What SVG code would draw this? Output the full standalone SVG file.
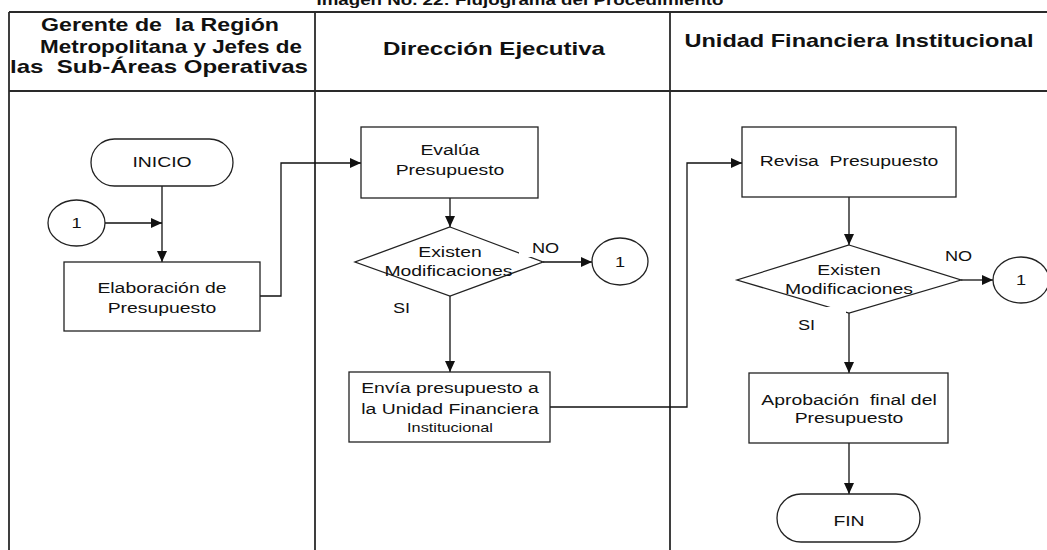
<svg xmlns="http://www.w3.org/2000/svg" width="1047" height="550" viewBox="0 0 1047 550">
  <defs>
    <style>
      .lane{fill:none;stroke:#2a2a2a;stroke-width:1.8}
      .shape{fill:#fff;stroke:#222;stroke-width:1.3}
      .edge{fill:none;stroke:#111;stroke-width:1.3}
      .mask{fill:#fff;stroke:none}
      text{font-family:"Liberation Sans",Arial,sans-serif;fill:#111}
      .hd{font-weight:bold;font-size:18.8px;text-anchor:middle}
      .tt{font-weight:bold;font-size:15px;text-anchor:middle}
      .lb{font-size:15.5px;text-anchor:middle}
      .sm{font-size:13px;text-anchor:middle}
      .cn{font-size:14.5px;text-anchor:middle}
      .yn{font-size:14.5px}
    </style>
    <marker id="arr" markerUnits="userSpaceOnUse" markerWidth="12" markerHeight="10" refX="11" refY="5" orient="auto">
      <path d="M0,0 L11,5 L0,10 z" fill="#111"/>
    </marker>
  </defs>

  <rect width="1047" height="550" fill="#fff"/>

  <!-- caption (text is widened 1.25x horizontally, so x values are divided by 1.25) -->
  <g id="caption" transform="scale(1.25 1)">
    <text class="tt" x="416" y="5">Imagen No. 22: Flujograma del Procedimiento</text>
  </g>

  <!-- swimlane grid -->
  <g id="lanes">
    <line class="lane" x1="9" y1="12" x2="1047" y2="12"/>
    <line class="lane" x1="9" y1="91" x2="1047" y2="91"/>
    <line class="lane" x1="9" y1="12" x2="9" y2="550"/>
    <line class="lane" x1="315" y1="12" x2="315" y2="550"/>
    <line class="lane" x1="670" y1="12" x2="670" y2="550"/>
  </g>

  <g id="lane-headers" transform="scale(1.25 1)">
    <text class="hd" x="128" y="31" textLength="190.4" lengthAdjust="spacingAndGlyphs" xml:space="preserve">Gerente de  la Región</text>
    <text class="hd" x="136.8" y="53" textLength="209.6" lengthAdjust="spacingAndGlyphs">Metropolitana y Jefes de</text>
    <text class="hd" x="127.2" y="73" textLength="238.4" lengthAdjust="spacingAndGlyphs" xml:space="preserve">las  Sub-Áreas Operativas</text>
    <text class="hd" x="395.2" y="55" textLength="177.6" lengthAdjust="spacingAndGlyphs">Dirección Ejecutiva</text>
    <text class="hd" x="687.2" y="47" textLength="279.2" lengthAdjust="spacingAndGlyphs">Unidad Financiera Institucional</text>
  </g>

  <!-- connectors -->
  <g id="connectors">
    <path class="edge" d="M162,186 V262" marker-end="url(#arr)"/>
    <path class="edge" d="M105,223 H162" marker-end="url(#arr)"/>
    <path class="edge" d="M260,296 H281 V163 H361" marker-end="url(#arr)"/>
    <path class="edge" d="M450,198 V227" marker-end="url(#arr)"/>
    <path class="edge" d="M543,262 H592" marker-end="url(#arr)"/>
    <path class="edge" d="M450,296 V372" marker-end="url(#arr)"/>
    <path class="edge" d="M550,407 H687 V163 H742" marker-end="url(#arr)"/>
    <path class="edge" d="M849,197 V245" marker-end="url(#arr)"/>
    <path class="edge" d="M961,280 H993" marker-end="url(#arr)"/>
    <path class="edge" d="M849,313 V373" marker-end="url(#arr)"/>
    <path class="edge" d="M849,443 V494" marker-end="url(#arr)"/>
  </g>

  <!-- lane 1 -->
  <g id="inicio">
    <rect class="shape" x="91" y="139" width="142" height="47" rx="23.5"/>
    <g transform="scale(1.25 1)"><text class="lb" x="129.6" y="167">INICIO</text></g>
  </g>
  <g id="conector-entrada">
    <ellipse class="shape" cx="76.5" cy="223" rx="28.5" ry="23"/>
    <g transform="scale(1.25 1)"><text class="cn" x="61.2" y="228">1</text></g>
  </g>
  <g id="elaboracion">
    <rect class="shape" x="64" y="262" width="196" height="69"/>
    <g transform="scale(1.25 1)">
      <text class="lb" x="129.6" y="293">Elaboración de</text>
      <text class="lb" x="129.6" y="313">Presupuesto</text>
    </g>
  </g>

  <!-- lane 2 -->
  <g id="evalua">
    <rect class="shape" x="361" y="127" width="177" height="71"/>
    <g transform="scale(1.25 1)">
      <text class="lb" x="360" y="155">Evalúa</text>
      <text class="lb" x="360" y="175">Presupuesto</text>
    </g>
  </g>
  <g id="decision-1">
    <polygon class="shape" points="450,227 543,262 450,296 355,262"/>
    <rect class="mask" x="519" y="239" width="44" height="18"/>
    <g transform="scale(1.25 1)">
      <text class="lb" x="360" y="257">Existen</text>
      <text class="lb" x="358.8" y="276">Modificaciones</text>
      <text class="yn" x="425.6" y="253">NO</text>
      <text class="yn" x="314.4" y="313">SI</text>
    </g>
  </g>
  <g id="conector-1">
    <ellipse class="shape" cx="620" cy="261.5" rx="28" ry="23.5"/>
    <g transform="scale(1.25 1)"><text class="cn" x="496" y="267">1</text></g>
  </g>
  <g id="envia">
    <rect class="shape" x="349" y="372" width="201" height="70"/>
    <g transform="scale(1.25 1)">
      <text class="lb" x="360" y="393">Envía presupuesto a</text>
      <text class="lb" x="360" y="414">la Unidad Financiera</text>
      <text class="sm" x="360" y="432">Institucional</text>
    </g>
  </g>

  <!-- lane 3 -->
  <g id="revisa">
    <rect class="shape" x="742" y="127" width="214" height="70"/>
    <g transform="scale(1.25 1)"><text class="lb" x="679.2" y="166" xml:space="preserve">Revisa  Presupuesto</text></g>
  </g>
  <g id="decision-2">
    <polygon class="shape" points="849,245 961,280 849,313 737,280"/>
    <rect class="mask" x="790" y="307" width="56" height="28"/>
    <g transform="scale(1.25 1)">
      <text class="lb" x="679.2" y="275">Existen</text>
      <text class="lb" x="679.2" y="294">Modificaciones</text>
      <text class="yn" x="756" y="261">NO</text>
      <text class="yn" x="638.4" y="330">SI</text>
    </g>
  </g>
  <g id="conector-2">
    <ellipse class="shape" cx="1021" cy="280" rx="28" ry="23"/>
    <g transform="scale(1.25 1)"><text class="cn" x="816.8" y="285">1</text></g>
  </g>
  <g id="aprobacion">
    <rect class="shape" x="749" y="373" width="199" height="70"/>
    <g transform="scale(1.25 1)">
      <text class="lb" x="679.2" y="405" xml:space="preserve">Aprobación  final del</text>
      <text class="lb" x="679.2" y="423">Presupuesto</text>
    </g>
  </g>
  <g id="fin">
    <rect class="shape" x="777" y="494" width="143" height="48" rx="24"/>
    <g transform="scale(1.25 1)"><text class="lb" x="679.2" y="526">FIN</text></g>
  </g>
</svg>
